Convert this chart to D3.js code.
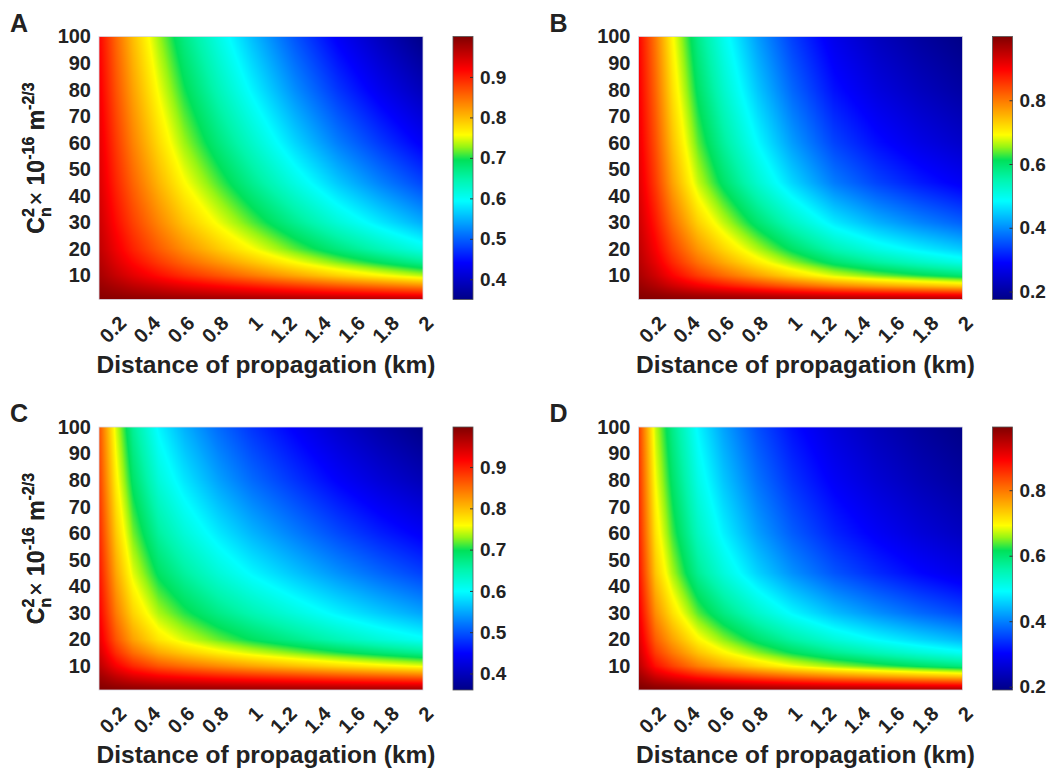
<!DOCTYPE html>
<html>
<head>
<meta charset="utf-8">
<script src="https://cdn.jsdelivr.net/npm/d3@7"></script>
<style>
body { margin: 0; background: #fff; }
svg { display: block; }
text { font-family: "Liberation Sans", Arial, Helvetica, sans-serif; font-weight: bold; fill: #222; }
</style>
</head>
<body>
<div class="canvas"></div>
<script>
const canvasWidth = 1052;
const canvasHeight = 769;

// grid: columns follow distances (km), rows follow cn2Levels
const distances = [0.1, 0.2, 0.3, 0.45, 0.6, 0.8, 1.0, 1.25, 1.5, 1.75, 2.0];
const cn2Levels = [1, 3, 6, 10, 15, 20, 30, 45, 60, 80, 100];
const xTicks = [0.2, 0.4, 0.6, 0.8, 1, 1.2, 1.4, 1.6, 1.8, 2];
const yTicks = [10, 20, 30, 40, 50, 60, 70, 80, 90, 100];

const valuesA = [
	[0.997, 0.995, 0.993, 0.990, 0.987, 0.984, 0.981, 0.977, 0.973, 0.970, 0.967],
	[0.992, 0.986, 0.980, 0.972, 0.965, 0.956, 0.948, 0.938, 0.928, 0.919, 0.909],
	[0.985, 0.973, 0.961, 0.947, 0.933, 0.918, 0.903, 0.884, 0.865, 0.849, 0.833],
	[0.976, 0.955, 0.936, 0.912, 0.890, 0.866, 0.842, 0.813, 0.785, 0.760, 0.736],
	[0.968, 0.940, 0.915, 0.883, 0.855, 0.824, 0.794, 0.757, 0.722, 0.691, 0.662],
	[0.961, 0.928, 0.898, 0.861, 0.828, 0.791, 0.757, 0.714, 0.675, 0.640, 0.608],
	[0.953, 0.913, 0.878, 0.834, 0.794, 0.752, 0.712, 0.664, 0.619, 0.581, 0.545],
	[0.943, 0.896, 0.855, 0.803, 0.758, 0.710, 0.664, 0.611, 0.562, 0.520, 0.482],
	[0.936, 0.883, 0.836, 0.779, 0.729, 0.676, 0.628, 0.570, 0.518, 0.475, 0.435],
	[0.927, 0.867, 0.816, 0.753, 0.698, 0.640, 0.588, 0.527, 0.473, 0.428, 0.388],
	[0.919, 0.854, 0.798, 0.730, 0.671, 0.611, 0.555, 0.492, 0.436, 0.391, 0.350]
];
const valuesB = [
	[0.998, 0.996, 0.993, 0.990, 0.987, 0.983, 0.980, 0.976, 0.972, 0.970, 0.968],
	[0.992, 0.984, 0.974, 0.961, 0.951, 0.938, 0.925, 0.910, 0.900, 0.891, 0.882],
	[0.981, 0.961, 0.937, 0.907, 0.883, 0.854, 0.825, 0.793, 0.770, 0.751, 0.733],
	[0.968, 0.936, 0.897, 0.849, 0.812, 0.767, 0.724, 0.677, 0.644, 0.618, 0.595],
	[0.958, 0.916, 0.866, 0.806, 0.760, 0.705, 0.654, 0.598, 0.561, 0.531, 0.504],
	[0.951, 0.901, 0.844, 0.775, 0.723, 0.662, 0.605, 0.545, 0.504, 0.473, 0.445],
	[0.939, 0.879, 0.809, 0.727, 0.668, 0.597, 0.535, 0.469, 0.426, 0.393, 0.364],
	[0.924, 0.850, 0.766, 0.670, 0.602, 0.523, 0.455, 0.386, 0.342, 0.309, 0.281],
	[0.914, 0.833, 0.741, 0.637, 0.564, 0.482, 0.412, 0.342, 0.299, 0.266, 0.239],
	[0.905, 0.815, 0.715, 0.604, 0.527, 0.442, 0.371, 0.301, 0.259, 0.228, 0.202],
	[0.897, 0.800, 0.694, 0.578, 0.498, 0.411, 0.339, 0.271, 0.229, 0.199, 0.175]
];
const valuesC = [
	[0.997, 0.994, 0.991, 0.989, 0.987, 0.986, 0.984, 0.983, 0.981, 0.980, 0.978],
	[0.990, 0.979, 0.971, 0.963, 0.959, 0.953, 0.949, 0.944, 0.939, 0.934, 0.930],
	[0.979, 0.956, 0.938, 0.922, 0.912, 0.901, 0.892, 0.882, 0.871, 0.862, 0.853],
	[0.962, 0.922, 0.893, 0.865, 0.849, 0.831, 0.815, 0.798, 0.782, 0.767, 0.753],
	[0.946, 0.890, 0.850, 0.813, 0.791, 0.767, 0.747, 0.725, 0.703, 0.684, 0.666],
	[0.934, 0.866, 0.817, 0.773, 0.747, 0.719, 0.695, 0.670, 0.645, 0.623, 0.604],
	[0.921, 0.841, 0.785, 0.735, 0.705, 0.673, 0.647, 0.619, 0.592, 0.568, 0.546],
	[0.907, 0.814, 0.750, 0.693, 0.660, 0.624, 0.595, 0.565, 0.536, 0.510, 0.487],
	[0.895, 0.792, 0.722, 0.660, 0.624, 0.587, 0.556, 0.524, 0.493, 0.466, 0.443],
	[0.881, 0.767, 0.690, 0.623, 0.585, 0.545, 0.512, 0.479, 0.447, 0.419, 0.395],
	[0.870, 0.747, 0.664, 0.594, 0.554, 0.513, 0.479, 0.445, 0.412, 0.384, 0.360]
];
const valuesD = [
	[0.997, 0.992, 0.989, 0.985, 0.982, 0.979, 0.976, 0.973, 0.970, 0.968, 0.966],
	[0.987, 0.969, 0.959, 0.945, 0.935, 0.923, 0.913, 0.902, 0.894, 0.885, 0.878],
	[0.971, 0.931, 0.907, 0.877, 0.856, 0.832, 0.811, 0.789, 0.771, 0.755, 0.741],
	[0.949, 0.881, 0.842, 0.794, 0.760, 0.723, 0.690, 0.658, 0.632, 0.609, 0.589],
	[0.934, 0.846, 0.798, 0.739, 0.698, 0.653, 0.615, 0.577, 0.548, 0.522, 0.499],
	[0.922, 0.820, 0.765, 0.698, 0.653, 0.603, 0.562, 0.521, 0.489, 0.462, 0.438],
	[0.904, 0.781, 0.715, 0.638, 0.587, 0.532, 0.487, 0.443, 0.410, 0.381, 0.357],
	[0.883, 0.737, 0.662, 0.575, 0.519, 0.459, 0.412, 0.366, 0.333, 0.305, 0.281],
	[0.871, 0.713, 0.632, 0.541, 0.482, 0.421, 0.373, 0.328, 0.295, 0.267, 0.244],
	[0.860, 0.690, 0.605, 0.510, 0.450, 0.388, 0.340, 0.295, 0.262, 0.235, 0.213],
	[0.850, 0.671, 0.583, 0.485, 0.424, 0.361, 0.313, 0.269, 0.237, 0.211, 0.190]
];

// colour limits and colorbar ticks of each panel
const climA = [0.35, 1.0];
const climB = [0.175, 1.0];
const climC = [0.36, 0.997];
const climD = [0.19, 0.993];
const cbTicksA = [0.4, 0.5, 0.6, 0.7, 0.8, 0.9];
const cbTicksB = [0.2, 0.4, 0.6, 0.8];
const cbTicksC = [0.4, 0.5, 0.6, 0.7, 0.8, 0.9];
const cbTicksD = [0.2, 0.4, 0.6, 0.8];

const panels = [
	{ label: 'A', values: valuesA, clim: climA, cbTicks: cbTicksA, left: 99, top: 36.5 },
	{ label: 'B', values: valuesB, clim: climB, cbTicks: cbTicksB, left: 638.5, top: 36.5 },
	{ label: 'C', values: valuesC, clim: climC, cbTicks: cbTicksC, left: 99, top: 427 },
	{ label: 'D', values: valuesD, clim: climD, cbTicks: cbTicksD, left: 638.5, top: 427 }
];

const plotW = 324;
const plotH = 263;
const cbGap = 354;
const cbW = 20;

// jet-like map as it looks in the figure (saturated green middle)
const jetScale = d3.scaleLinear()
	.domain([0, 0.14, 0.26, 0.375, 0.46, 0.53, 0.58, 0.625, 0.75, 0.875, 1])
	.range(['#000087', '#0000ff', '#0080ff', '#00ffff', '#00f5aa', '#00e15a', '#96f514', '#ffff00', '#ff8000', '#ff0000', '#800000'])
	.clamp(true);
const jet = t => {
	const c = d3.rgb(jetScale(t));
	return [c.r, c.g, c.b];
};

const cell = (arr, v) => {
	let i = d3.bisectRight(arr, v) - 1;
	i = Math.max(0, Math.min(arr.length - 2, i));
	const f = Math.max(0, Math.min(1, (v - arr[i]) / (arr[i + 1] - arr[i])));
	return [i, f];
};

const svg = d3.select('.canvas')
	.append('svg')
	.attr('width', canvasWidth)
	.attr('height', canvasHeight);

panels.forEach(p => {
	const x = d3.scaleLinear().domain([0.1, 2]).range([0, plotW]);
	const y = d3.scaleLinear().domain([1, 100]).range([plotH, 0]);
	const t = d3.scaleLinear().domain(p.clim).range([0, 1]).clamp(true);

	// heat map pixels, bilinear between the grid values
	const cnv = document.createElement('canvas');
	cnv.width = plotW;
	cnv.height = plotH;
	const ctx = cnv.getContext('2d');
	const img = ctx.createImageData(plotW, plotH);
	for (let py = 0; py < plotH; py++) {
		const [j, fy] = cell(cn2Levels, y.invert(py + 0.5));
		for (let px = 0; px < plotW; px++) {
			const [i, fx] = cell(distances, x.invert(px + 0.5));
			const v = (1 - fy) * ((1 - fx) * p.values[j][i] + fx * p.values[j][i + 1])
				+ fy * ((1 - fx) * p.values[j + 1][i] + fx * p.values[j + 1][i + 1]);
			const [r, g, b] = jet(t(v));
			const k = (py * plotW + px) * 4;
			img.data[k] = r; img.data[k + 1] = g; img.data[k + 2] = b; img.data[k + 3] = 255;
		}
	}
	ctx.putImageData(img, 0, 0);

	const graph = svg.append('g')
		.attr('transform', `translate(${p.left},${p.top})`);

	graph.append('image')
		.attr('width', plotW)
		.attr('height', plotH)
		.attr('preserveAspectRatio', 'none')
		.attr('href', cnv.toDataURL());

	graph.append('rect')
		.attr('width', plotW)
		.attr('height', plotH)
		.attr('fill', 'none')
		.attr('stroke', '#d8d8e4')
		.attr('stroke-width', 0.8);

	const yAxisGroup = graph.append('g')
		.call(d3.axisLeft(y).tickValues(yTicks).tickSize(0).tickPadding(8));
	yAxisGroup.select('.domain').remove();
	yAxisGroup.selectAll('text')
		.attr('font-size', 20)
		.attr('font-family', null)
		.attr('fill', '#222');

	const xAxisGroup = graph.append('g')
		.attr('transform', `translate(0,${plotH})`)
		.call(d3.axisBottom(x).tickValues(xTicks).tickSize(0).tickFormat(d3.format('~g')));
	xAxisGroup.select('.domain').remove();
	xAxisGroup.selectAll('text')
		.attr('x', 0)
		.attr('y', 0)
		.attr('dy', 0)
		.attr('text-anchor', 'end')
		.attr('transform', 'translate(11,25) rotate(-45)')
		.attr('font-size', 20)
		.attr('fill', '#222');

	graph.append('text')
		.attr('x', plotW / 2 + 5)
		.attr('y', plotH + 73)
		.attr('text-anchor', 'middle')
		.attr('font-size', 24.5)
		.text('Distance of propagation (km)');

	// y title: C_n^2 x 10^-16 m^-2/3
	const yTitle = graph.append('text')
		.attr('text-anchor', 'middle')
		.attr('font-size', 23)
		.attr('transform', `translate(${-p.left + 44},${plotH / 2 - 10}) rotate(-90)`);
	yTitle.append('tspan').text('C');
	yTitle.append('tspan').attr('font-size', 16).attr('dy', -10).text('2');
	yTitle.append('tspan').attr('font-size', 16).attr('dx', -8.9).attr('dy', 17).text('n');
	yTitle.append('tspan').attr('font-weight', 'normal').attr('dx', 2).attr('dy', -7).text('\u00d7');
	yTitle.append('tspan').text(' 10');
	yTitle.append('tspan').attr('font-size', 16).attr('dy', -10).text('-16');
	yTitle.append('tspan').attr('dy', 10).text(' m');
	yTitle.append('tspan').attr('font-size', 16).attr('dy', -10).text('-2/3');

	svg.append('text')
		.attr('x', p.left - 89)
		.attr('y', p.top - 5)
		.attr('font-size', 25)
		.attr('fill', '#000')
		.text(p.label);

	// colorbar
	const cb = d3.scaleLinear().domain(p.clim).range([plotH, 0]);
	const cbCnv = document.createElement('canvas');
	cbCnv.width = 1;
	cbCnv.height = plotH;
	const cbCtx = cbCnv.getContext('2d');
	for (let py = 0; py < plotH; py++) {
		const [r, g, b] = jet(t(cb.invert(py + 0.5)));
		cbCtx.fillStyle = `rgb(${r},${g},${b})`;
		cbCtx.fillRect(0, py, 1, 1);
	}
	const cbGroup = graph.append('g')
		.attr('transform', `translate(${cbGap},0)`);
	cbGroup.append('image')
		.attr('width', cbW)
		.attr('height', plotH)
		.attr('preserveAspectRatio', 'none')
		.attr('href', cbCnv.toDataURL());
	cbGroup.append('rect')
		.attr('width', cbW)
		.attr('height', plotH)
		.attr('fill', 'none')
		.attr('stroke', '#555')
		.attr('stroke-width', 0.8);

	const cbAxis = cbGroup.append('g')
		.attr('transform', `translate(${cbW},0)`)
		.call(d3.axisRight(cb).tickValues(p.cbTicks).tickSizeInner(-3).tickSizeOuter(0).tickPadding(7).tickFormat(d3.format('.1f')));
	cbAxis.select('.domain').remove();
	cbAxis.selectAll('line').attr('stroke', '#333');
	cbAxis.selectAll('text')
		.attr('font-size', 19)
		.attr('fill', '#222');
});
</script>
</body>
</html>
